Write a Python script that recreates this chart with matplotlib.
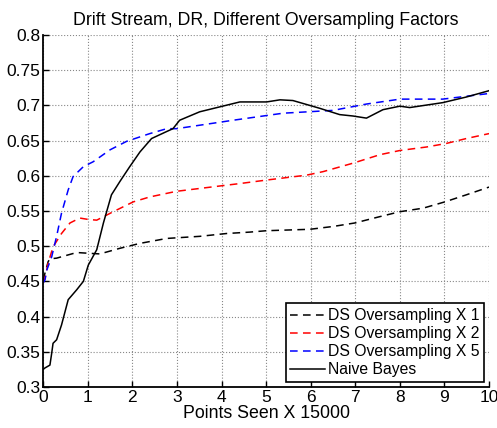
import matplotlib
matplotlib.use("Agg")
import matplotlib.pyplot as plt

plt.rcParams["font.family"] = ["Liberation Sans", "DejaVu Sans"]

# DS oversampling x1 (black dashed)
x_ds1 = [0, 0.04, 0.11, 0.15, 0.3, 0.75, 1.0, 1.27, 1.72, 2.17, 2.77, 3.51, 4.11, 4.63,
         5.01, 5.98, 6.5, 6.99, 7.55, 8.0, 8.52, 9.01, 9.49, 10.0]
y_ds1 = [0.452, 0.462, 0.478, 0.482, 0.483, 0.491, 0.490, 0.489, 0.497, 0.504, 0.511, 0.514,
         0.518, 0.520, 0.522, 0.524, 0.528, 0.533, 0.542, 0.549, 0.554, 0.563, 0.573, 0.584]

# DS oversampling x2 (red dashed)
x_ds2 = [0, 0.04, 0.11, 0.22, 0.41, 0.6, 0.82, 1.01, 1.2, 1.57, 2.02, 2.39, 2.99, 3.89, 4.41,
         5.01, 5.91, 6.28, 6.95, 7.55, 8.0, 8.6, 9.04, 9.49, 10.0]
y_ds2 = [0.448, 0.455, 0.476, 0.499, 0.518, 0.533, 0.540, 0.538, 0.537, 0.549, 0.563, 0.570,
         0.578, 0.585, 0.589, 0.594, 0.601, 0.606, 0.618, 0.630, 0.636, 0.641, 0.646, 0.653, 0.660]

# DS oversampling x5 (blue dashed)
x_ds5 = [0, 0.04, 0.08, 0.19, 0.3, 0.41, 0.56, 0.67, 0.9, 1.12, 1.5, 1.87, 2.39, 2.77, 2.99,
         4.26, 5.38, 6.5, 7.25, 8.0, 8.96, 10.0]
y_ds5 = [0.448, 0.452, 0.466, 0.485, 0.514, 0.547, 0.580, 0.599, 0.613, 0.620, 0.637, 0.649,
         0.660, 0.667, 0.667, 0.679, 0.689, 0.693, 0.702, 0.709, 0.709, 0.717]

# Naive Bayes (black solid)
x_nb = [0, 0.04, 0.15, 0.19, 0.22, 0.3, 0.41, 0.56, 0.75, 0.9, 1.01, 1.2, 1.35, 1.53, 1.72,
        1.94, 2.17, 2.43, 2.77, 2.91, 3.06, 3.51, 3.96, 4.41, 5.01, 5.31, 5.6, 6.2, 6.65,
        6.95, 7.25, 7.62, 8.0, 8.22, 8.96, 9.49, 10.0]
y_nb = [0.325, 0.327, 0.331, 0.348, 0.362, 0.367, 0.388, 0.424, 0.438, 0.450, 0.473, 0.495,
        0.533, 0.573, 0.592, 0.613, 0.634, 0.653, 0.663, 0.667, 0.679, 0.691, 0.698, 0.705,
        0.705, 0.708, 0.707, 0.696, 0.687, 0.685, 0.682, 0.694, 0.699, 0.697, 0.704, 0.712,
        0.721]

labels = ["DS Oversampling X 1", "DS Oversampling X 2", "DS Oversampling X 5", "Naive Bayes"]
xticks = list(range(0, 11))
yticks = [0.3, 0.35, 0.4, 0.45, 0.5, 0.55, 0.6, 0.65, 0.7, 0.75, 0.8]
ytick_labels = ["0.3", "0.35", "0.4", "0.45", "0.5", "0.55", "0.6", "0.65", "0.7", "0.75", "0.8"]

fig = plt.figure(figsize=(4.97, 4.28), dpi=100)
ax = fig.add_axes([0.087, 0.096, 0.897, 0.822])

dash = (0, (5, 3.5))
ax.plot(x_ds1, y_ds1, color="black", linestyle=dash, lw=1.1, label=labels[0])
ax.plot(x_ds2, y_ds2, color="red", linestyle=dash, lw=1.1, label=labels[1])
ax.plot(x_ds5, y_ds5, color="blue", linestyle=dash, lw=1.1, label=labels[2])
ax.plot(x_nb, y_nb, color="black", linestyle="-", lw=1.1, label=labels[3])

ax.set_xlim(0, 10)
ax.set_ylim(0.3, 0.8)
ax.set_xticks(xticks)
ax.set_yticks(yticks)
ax.set_yticklabels(ytick_labels)
ax.tick_params(direction="in", labelsize=12.5, length=4, width=1.0, pad=2)
ax.grid(True, linestyle=":", color="#888888", lw=0.8)
ax.spines["top"].set_visible(False)
ax.spines["right"].set_visible(False)
ax.spines["left"].set_linewidth(1.3)
ax.spines["bottom"].set_linewidth(1.3)

ax.set_title("Drift Stream, DR, Different Oversampling Factors", fontsize=12.8, pad=7)
ax.set_xlabel("Points Seen X 15000", fontsize=12.8, labelpad=0)

leg = ax.legend(loc="lower right", fontsize=11.3, fancybox=False, framealpha=1,
                edgecolor="black", handlelength=2.2, handletextpad=0.2, borderpad=0.3,
                labelspacing=0.2, borderaxespad=0.3)
leg.get_frame().set_linewidth(1.2)

fig.savefig("out.png", dpi=100)
